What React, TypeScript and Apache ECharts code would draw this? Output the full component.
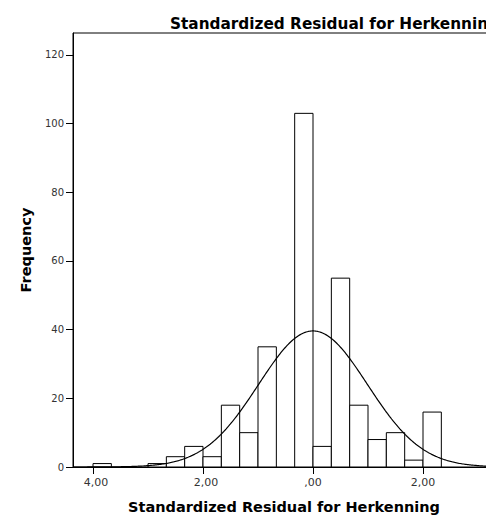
import React, { useEffect, useRef } from "react";
import * as echarts from "echarts";

// Histogram bins: lower edge of each bin (width 1/3) and the frequency in it.
const binWidth = 1 / 3;
const binStarts = [-4, -11 / 3, -10 / 3, -3, -8 / 3, -7 / 3, -2, -5 / 3, -4 / 3, -1, -2 / 3, -1 / 3, 0, 1 / 3, 2 / 3, 1, 4 / 3, 5 / 3, 2];
const counts = [1, 0, 0, 1, 3, 6, 3, 18, 10, 35, 0, 103, 6, 55, 18, 8, 10, 2, 16];

// Fitted normal curve parameters (mean, standard deviation of the residuals).
const curveMean = 0;
const curveStdDev = 0.99;

// Axis ticks and their printed labels.
const xTickValues = [-4, -2, 0, 2];
const xTickLabels = ["4,00", "2,00", ",00", "2,00"];
const yTickValues = [0, 20, 40, 60, 80, 100, 120];

const xMin = -4.364;
const xMax = 3.309;
const yMax = 126.4;

const titleText = "Standardized Residual for Herkenning";
const FONT = "DejaVu Sans";

export default function App() {
  const ref = useRef<HTMLDivElement>(null);

  useEffect(() => {
    document.body.style.margin = "0";
    document.body.style.overflow = "hidden";
    if (!ref.current) return;
    const chart = echarts.init(ref.current, undefined, { renderer: "svg" });

    const total = counts.reduce((a, b) => a + b, 0);
    const bars = binStarts.map((s, i) => [s, s + binWidth, counts[i]]);
    const steps = 400;
    const curve: number[][] = [];
    for (let i = 0; i <= steps; i++) {
      const x = xMin + ((xMax - xMin) * i) / steps;
      const z = (x - curveMean) / curveStdDev;
      const y = (total * binWidth * Math.exp(-0.5 * z * z)) / (curveStdDev * Math.sqrt(2 * Math.PI));
      curve.push([x, y]);
    }

    const nameStyle = { fontFamily: FONT, fontWeight: "bold", fontSize: 14.5, color: "#000" };

    chart.setOption({
      animation: false,
      backgroundColor: "#fff",
      title: {
        text: titleText,
        left: 170,
        top: 16,
        padding: 0,
        textStyle: { fontFamily: FONT, fontWeight: "bold", fontSize: 15.3, color: "#000" },
      },
      grid: {
        left: 73,
        right: 5,
        top: 33,
        bottom: 51,
        containLabel: false,
        outerBoundsMode: "none",
        show: true,
        borderColor: "#000",
        borderWidth: 1,
      },
      xAxis: {
        type: "value",
        min: xMin,
        max: xMax,
        name: titleText,
        nameLocation: "middle",
        nameGap: 32,
        nameTextStyle: nameStyle,
        splitLine: { show: false },
        axisLine: { show: true, onZero: false, lineStyle: { color: "#000", width: 1 } },
        axisTick: { show: true, length: 7, customValues: xTickValues, lineStyle: { color: "#000" } },
        axisLabel: {
          customValues: xTickValues,
          margin: 10,
          fontFamily: FONT,
          fontSize: 11,
          color: "#333",
          rich: {
            neg: { fontFamily: FONT, fontSize: 11, color: "#333", padding: [0, 0, 0, 6] },
          },
          formatter: (v: number) => {
            const idx = xTickValues.findIndex((t) => Math.abs(t - v) < 1e-6);
            if (idx < 0) return "";
            return v < 0 ? `{neg|${xTickLabels[idx]}}` : xTickLabels[idx];
          },
        },
      },
      yAxis: {
        type: "value",
        min: 0,
        max: yMax,
        name: "Frequency",
        nameLocation: "middle",
        nameGap: 40,
        nameRotate: 90,
        nameTextStyle: nameStyle,
        splitLine: { show: false },
        axisLine: { show: true, onZero: false, lineStyle: { color: "#000", width: 1 } },
        axisTick: { show: true, length: 7, customValues: yTickValues, lineStyle: { color: "#000" } },
        axisLabel: {
          customValues: yTickValues,
          margin: 9,
          fontFamily: FONT,
          fontSize: 10,
          color: "#333",
        },
      },
      series: [
        {
          type: "custom",
          z: 2,
          clip: true,
          data: bars,
          encode: { x: [0, 1], y: 2 },
          renderItem: (_params: any, api: any) => {
            const x0 = api.value(0);
            const x1 = api.value(1);
            const c = api.value(2);
            if (!c) return null;
            const p0 = api.coord([x0, c]);
            const p1 = api.coord([x1, 0]);
            return {
              type: "rect",
              shape: { x: p0[0], y: p0[1], width: p1[0] - p0[0], height: p1[1] - p0[1] },
              style: { fill: "#fff", stroke: "#000", lineWidth: 1 },
            };
          },
        },
        {
          type: "line",
          z: 3,
          data: curve,
          showSymbol: false,
          symbol: "none",
          clip: true,
          lineStyle: { color: "#000", width: 1.2 },
        },
      ],
    });

    return () => chart.dispose();
  }, []);

  return (
    <div style={{ position: "absolute", left: 0, top: 0, width: 486, height: 518, overflow: "hidden" }}>
      <div ref={ref} style={{ position: "absolute", left: 0, top: 0, width: 500, height: 518 }} />
    </div>
  );
}
